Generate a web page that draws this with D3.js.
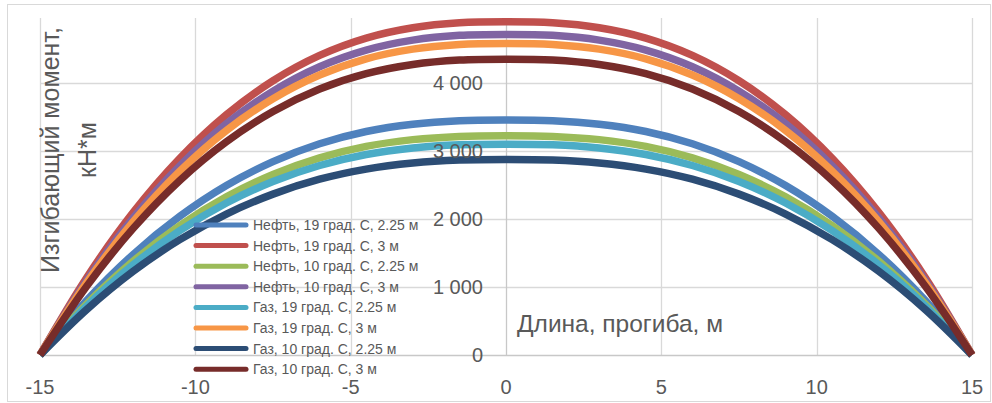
<!DOCTYPE html>
<html><head><meta charset="utf-8">
<script src="https://cdn.jsdelivr.net/npm/d3@7"></script>
<style>body{margin:0;background:#fff}svg{display:block}</style>
</head><body>
<svg id="c" width="992" height="403"></svg>
<script>
const xValues = [-15,-13.5,-12,-10.5,-9,-7.5,-6,-4.5,-3,-1.5,0,1.5,3,4.5,6,7.5,9,10.5,12,13.5,15];
const seriesNames = [
  "Нефть, 19 град. С, 2.25 м",
  "Нефть, 19 град. С, 3 м",
  "Нефть, 10 град. С, 2.25 м",
  "Нефть, 10 град. С, 3 м",
  "Газ, 19 град. С, 2.25 м",
  "Газ, 19 град. С, 3 м",
  "Газ, 10 град. С, 2.25 м",
  "Газ, 10 град. С, 3 м"
];
const neft19_225 = [0,802,1479,2039,2492,2844,3107,3287,3394,3446,3456,3446,3394,3287,3107,2844,2492,2039,1479,802,0];
const neft19_3   = [0,1137,2097,2891,3533,4033,4405,4660,4812,4885,4900,4885,4812,4660,4405,4033,3533,2891,2097,1137,0];
const neft10_225 = [0,748,1380,1903,2325,2654,2899,3067,3167,3215,3225,3215,3167,3067,2899,2654,2325,1903,1380,748,0];
const neft10_3   = [0,1094,2018,2782,3400,3880,4239,4484,4630,4701,4715,4701,4630,4484,4239,3880,3400,2782,2018,1094,0];
const gas19_225  = [0,719,1327,1829,2235,2551,2787,2948,3044,3091,3100,3091,3044,2948,2787,2551,2235,1829,1327,719,0];
const gas19_3    = [0,1063,1960,2702,3302,3769,4117,4356,4498,4566,4580,4566,4498,4356,4117,3769,3302,2702,1960,1063,0];
const gas10_225  = [0,667,1231,1696,2073,2366,2585,2734,2823,2866,2875,2866,2823,2734,2585,2366,2073,1696,1231,667,0];
const gas10_3    = [0,1009,1862,2567,3136,3580,3911,4137,4272,4337,4350,4337,4272,4137,3911,3580,3136,2567,1862,1009,0];
const seriesValues = [neft19_225, neft19_3, neft10_225, neft10_3, gas19_225, gas19_3, gas10_225, gas10_3];
const colors = ["#4F81BD","#C0504D","#9BBB59","#8064A2","#4BACC6","#F79646","#2C4D75","#772C2A"];
const xTicks = [-15,-10,-5,0,5,10,15];
const yTicks = [0,1000,2000,3000,4000];
const xTitle = "Длина, прогиба, м";
const yTitleLines = ["Изгибающий момент,", "кН*м"];

(function(){
const svg = d3.select("#c");
const pLeft = 40, pRight = 972, pTop = 18, pBottom = 355;
const x = d3.scaleLinear().domain([-15,15]).range([pLeft,pRight]);
const y = d3.scaleLinear().domain([0,5000]).range([pBottom,15]);
const font = "'Liberation Sans', Arial, sans-serif";
const textCol = "#595959";

svg.append("rect").attr("x",7.5).attr("y",4.5).attr("width",983).attr("height",397)
  .attr("fill","#fff").attr("stroke","#d9d9d9").attr("stroke-width",1);

const g = svg.append("g");
g.selectAll(".hg").data(yTicks.filter(d=>d>0)).enter().append("line")
  .attr("x1",pLeft).attr("x2",pRight)
  .attr("y1",d=>Math.round(y(d))+0.5).attr("y2",d=>Math.round(y(d))+0.5)
  .attr("stroke","#d9d9d9").attr("stroke-width",1.3);
g.selectAll(".vg").data(xTicks).enter().append("line")
  .attr("x1",d=>Math.round(x(d))+0.5).attr("x2",d=>Math.round(x(d))+0.5)
  .attr("y1",pTop).attr("y2",pBottom)
  .attr("stroke",d=>d===0?"#c8c8c8":"#d9d9d9").attr("stroke-width",1.3);
g.append("line").attr("x1",pLeft).attr("x2",pRight)
  .attr("y1",Math.round(y(0))+0.5).attr("y2",Math.round(y(0))+0.5)
  .attr("stroke","#c8c8c8").attr("stroke-width",1.3);

svg.append("clipPath").attr("id","clip").append("rect")
  .attr("x",pLeft-5).attr("y",pTop).attr("width",pRight-pLeft+10).attr("height",pBottom-pTop+5);

const line = d3.line().x((d,i)=>x(xValues[i])).y(d=>y(d)).curve(d3.curveCatmullRom.alpha(0.5));
const sg = svg.append("g").attr("clip-path","url(#clip)");
seriesValues.forEach((vals,k)=>{
  sg.append("path").datum(vals).attr("d",line)
    .attr("fill","none").attr("stroke",colors[k]).attr("stroke-width",7.5)
    .attr("stroke-linejoin","round").attr("stroke-linecap","butt");
});

svg.selectAll(".yl").data(yTicks).enter().append("text")
  .attr("x",x(0)-23).attr("y",d=>y(d)+7)
  .attr("text-anchor","end").attr("font-family",font).attr("font-size",20)
  .attr("fill",textCol).text(d=>d3.format(",")(d).replace(/,/g," "));

svg.selectAll(".xl").data(xTicks).enter().append("text")
  .attr("x",d=>x(d)).attr("y",394)
  .attr("text-anchor","middle").attr("font-family",font).attr("font-size",20)
  .attr("fill",textCol).text(d=>d);

svg.append("text").attr("x",517).attr("y",332).attr("font-family",font).attr("font-size",24.5)
  .attr("fill",textCol).text(xTitle);

const yt = svg.append("text").attr("transform","translate(0,150) rotate(-90)")
  .attr("text-anchor","middle").attr("font-family",font).attr("font-size",25).attr("fill",textCol);
yt.append("tspan").attr("x",0).attr("y",59).text(yTitleLines[0]);
yt.append("tspan").attr("x",0).attr("y",96).text(yTitleLines[1]);

const lg = svg.append("g");
seriesNames.forEach((name,k)=>{
  const cy = 225 + k*20.6;
  lg.append("line").attr("x1",196).attr("x2",246).attr("y1",cy).attr("y2",cy)
    .attr("stroke",colors[k]).attr("stroke-width",5).attr("stroke-linecap","round");
  lg.append("text").attr("x",253).attr("y",cy+5).attr("font-family",font).attr("font-size",14)
    .attr("fill",textCol).text(name);
});
})();
</script>
</body></html>
